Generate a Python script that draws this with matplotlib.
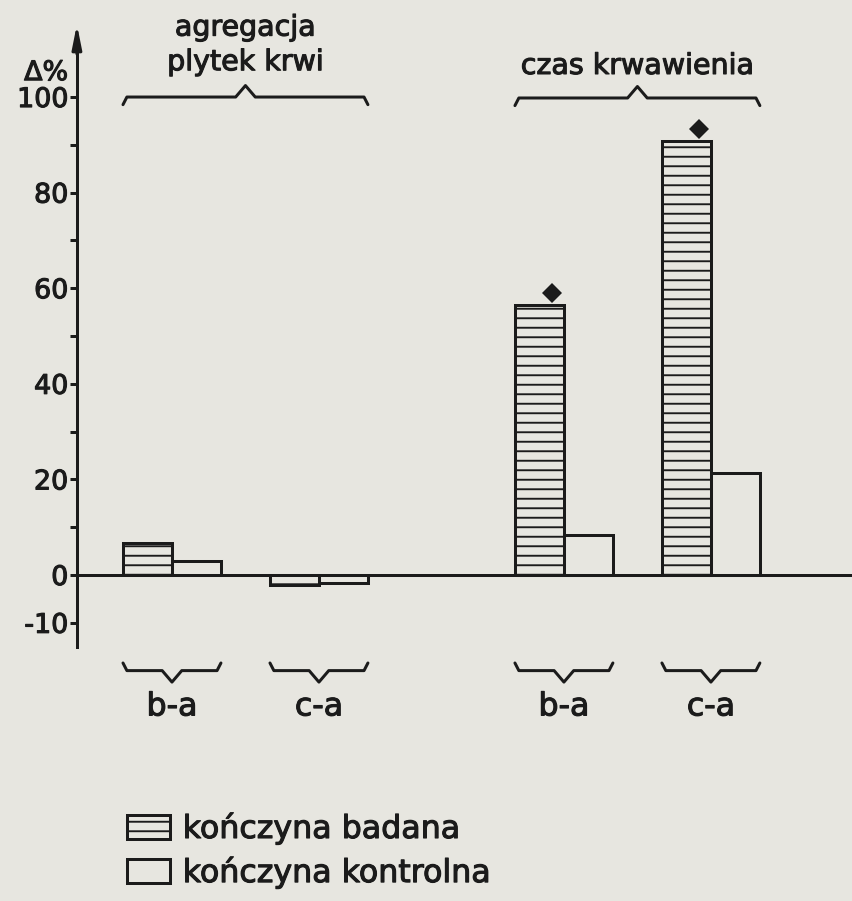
import numpy as np
import matplotlib.pyplot as plt
import matplotlib.patheffects as pe

plt.rcParams['font.family'] = 'DejaVu Sans'
plt.rcParams['hatch.linewidth'] = 1.2
plt.rcParams['axes.unicode_minus'] = False

# data (Δ% change)
group_labels = ['b-a', 'c-a', 'b-a', 'c-a']
section_titles = ['agregacja\nplytek krwi', 'czas krwawienia']
badana = np.array([6.7, -2.1, 56.5, 90.8])       # kończyna badana (hatched)
kontrolna = np.array([2.9, -1.7, 8.4, 21.3])     # kończyna kontrolna (open)
significant = np.array([False, False, True, True])
yticks_major = [-10, 0, 20, 40, 60, 80, 100]
yticks_minor = [10, 30, 50, 70, 90]
legend_labels = ['kończyna badana', 'kończyna kontrolna']

group_pos = np.array([0, 3, 8, 11])
axis_x = -1.94
ink = '#1b1b1b'
paper = '#e7e6e0'
DPI = 114
thick = [pe.withStroke(linewidth=0.7, foreground=ink)]   # heavier lettering


def brace(ax, x0, x1, y, s, end=1.6, tip=2.4):
    # s=+1 -> tip up (ends down), s=-1 -> tip down (ends up)
    xc = (x0 + x1) / 2
    xs = [x0, x0 + 0.08, xc - 0.2, xc, xc + 0.2, x1 - 0.08, x1]
    ys = [y - s*end, y, y, y + s*tip, y, y, y - s*end]
    ax.plot(xs, ys, color=ink, lw=1.9, solid_joinstyle='round',
            solid_capstyle='round', clip_on=False)


fig = plt.figure(figsize=(852/DPI, 901/DPI), dpi=DPI, facecolor=paper)
ax = fig.add_axes([0, 0, 1, 1])
ax.set_facecolor(paper)
ax.set_xlim(-3.51, 13.88)
ax.set_ylim(-68.2, 120.3)

b1 = ax.bar(group_pos - 0.5, badana, width=1, facecolor='none', edgecolor=ink,
            hatch='--', linewidth=1.9, zorder=3)
b2 = ax.bar(group_pos + 0.5, kontrolna, width=1, facecolor='none', edgecolor=ink,
            linewidth=1.9, zorder=3)

# zero line
ax.hlines(0, axis_x, ax.get_xlim()[1], color=ink, lw=1.9, zorder=4)

# significance marks
ax.plot(group_pos[significant] - 0.25, badana[significant] + 2.6, 'D',
        color=ink, markersize=8.5, mew=0, zorder=5)

# y axis
for sp in ['top', 'right', 'bottom']:
    ax.spines[sp].set_visible(False)
ax.spines['left'].set_position(('data', axis_x))
ax.spines['left'].set_bounds(-15, 111)
ax.spines['left'].set_linewidth(1.9)
ax.spines['left'].set_color(ink)
ax.annotate('', xy=(axis_x, 115.2), xytext=(axis_x, 109),
            arrowprops=dict(arrowstyle='-|>,head_length=1.25,head_width=0.25',
                            color=ink, lw=1.9, shrinkA=0, shrinkB=0))
ax.set_xticks([])
ax.set_yticks(yticks_major)
ax.set_yticklabels([str(v) for v in yticks_major])
ax.set_yticks(yticks_minor, minor=True)
ax.tick_params(axis='y', which='both', direction='out', length=4.5, width=1.9,
               color=ink, labelsize=17, pad=1, labelcolor=ink)
for t in ax.get_yticklabels():
    t.set_path_effects(thick)
ax.text(-2.12, 105, 'Δ%', ha='right', va='center', fontsize=17, color=ink,
        path_effects=thick)

# section braces and titles
brace(ax, group_pos[0] - 1, group_pos[1] + 1, 100, 1)
brace(ax, group_pos[2] - 1, group_pos[3] + 1, 99.8, 1)
ax.text((group_pos[0] + group_pos[1]) / 2, 110.9, section_titles[0], ha='center',
        va='center', fontsize=18, color=ink, linespacing=1.3, path_effects=thick)
ax.text((group_pos[2] + group_pos[3]) / 2, 106.5, section_titles[1], ha='center',
        va='center', fontsize=18, color=ink, path_effects=thick)

# group braces and labels
for g, lab in zip(group_pos, group_labels):
    brace(ax, g - 1, g + 1, -20, -1)
    ax.text(g, -27.6, lab, ha='center', va='center', fontsize=20, color=ink,
            path_effects=thick)

leg = ax.legend([b1, b2], legend_labels, loc='upper left',
                bbox_to_anchor=(127/852, 1 - 812/901), bbox_transform=fig.transFigure,
                frameon=False, fontsize=20, handlelength=1.36, handleheight=0.82,
                handletextpad=0.4, labelspacing=0.35, borderpad=0, borderaxespad=0,
                labelcolor=ink)
for t in leg.get_texts():
    t.set_path_effects(thick)

fig.savefig('out.png', dpi=DPI, facecolor=paper)
